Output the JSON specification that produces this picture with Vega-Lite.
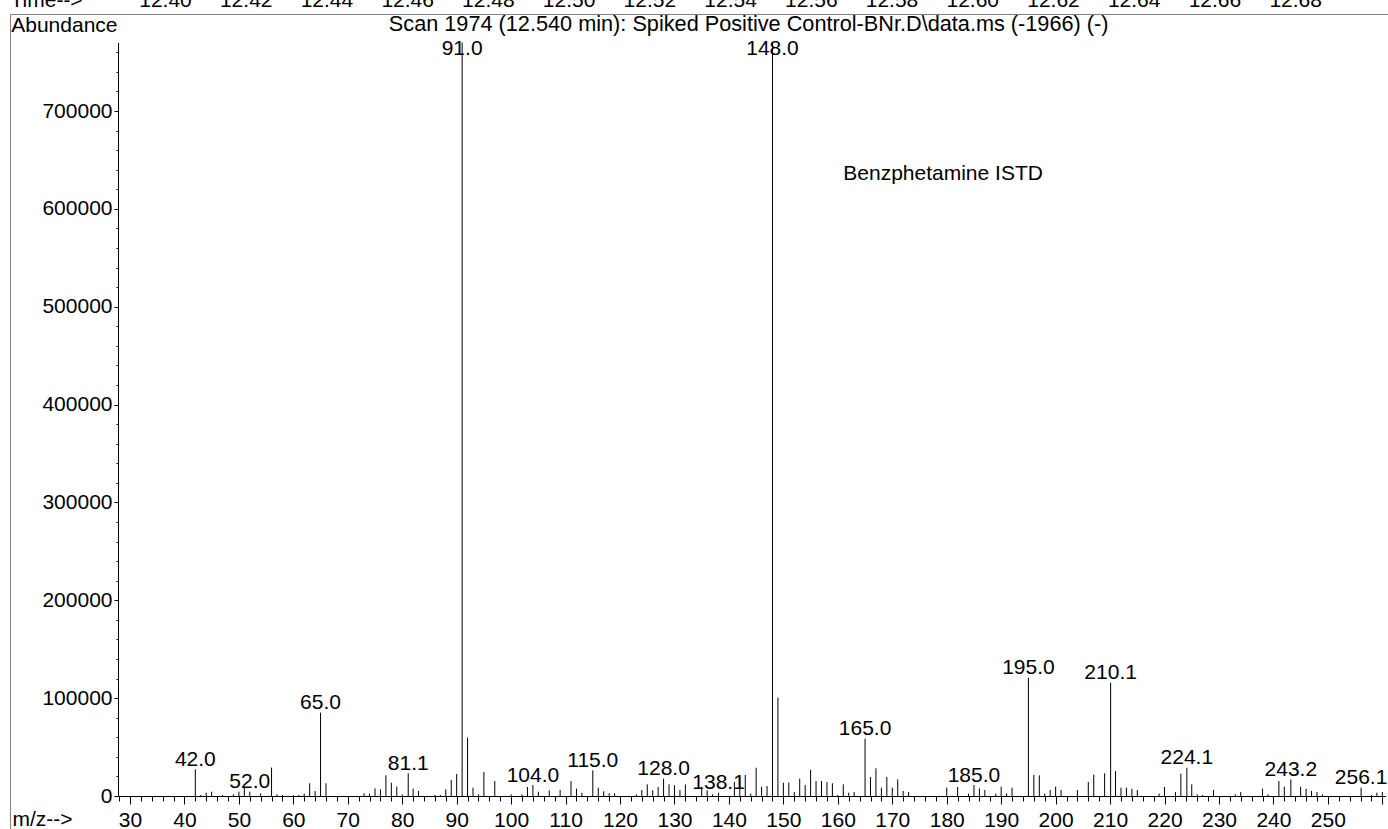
{
  "$schema": "https://vega.github.io/schema/vega-lite/v6.json",
  "width": 1378,
  "height": 815,
  "autosize": {"type": "none"},
  "padding": {"left": 10, "top": 14, "right": 0, "bottom": 0},
  "background": "white",
  "config": {
    "font": "Liberation Sans",
    "view": {"stroke": "#808080", "strokeWidth": 1},
    "axis": {"grid": false, "domainColor": "black", "tickColor": "black", "labelColor": "black", "titleColor": "black", "labelFontSize": 21, "titleFontSize": 21, "titleFontWeight": "normal"}
  },
  "datasets": {
    "spec": [
      {"mz": 42.0, "ab": 27250, "lab": true}, {"mz": 43, "ab": 1000}, {"mz": 44, "ab": 3400}, {"mz": 45, "ab": 4400}, {"mz": 47, "ab": 1000},
      {"mz": 49, "ab": 1700}, {"mz": 50, "ab": 4400}, {"mz": 51, "ab": 8500}, {"mz": 52.0, "ab": 4400, "lab": true}, {"mz": 54, "ab": 2700},
      {"mz": 56, "ab": 29000}, {"mz": 57, "ab": 1700}, {"mz": 58, "ab": 1000}, {"mz": 60, "ab": 1000}, {"mz": 61, "ab": 1000},
      {"mz": 62, "ab": 2400}, {"mz": 63, "ab": 13000}, {"mz": 64, "ab": 5100}, {"mz": 65.0, "ab": 85200, "lab": true}, {"mz": 66, "ab": 13000},
      {"mz": 73, "ab": 2700}, {"mz": 74, "ab": 2400}, {"mz": 75, "ab": 7800}, {"mz": 76, "ab": 6800}, {"mz": 77, "ab": 21100},
      {"mz": 78, "ab": 13600}, {"mz": 79, "ab": 9500}, {"mz": 80, "ab": 1700}, {"mz": 81.1, "ab": 23200, "lab": true}, {"mz": 82, "ab": 7500},
      {"mz": 83, "ab": 5100}, {"mz": 86, "ab": 1000}, {"mz": 87, "ab": 1000}, {"mz": 88, "ab": 6800}, {"mz": 89, "ab": 16300},
      {"mz": 90, "ab": 22500}, {"mz": 91.0, "ab": 770000, "lab": true}, {"mz": 92, "ab": 59600}, {"mz": 93, "ab": 8500}, {"mz": 94, "ab": 1700},
      {"mz": 95, "ab": 24500}, {"mz": 97, "ab": 15300}, {"mz": 100, "ab": 1700}, {"mz": 102, "ab": 1700}, {"mz": 103, "ab": 9200},
      {"mz": 104.0, "ab": 11200, "lab": true}, {"mz": 105, "ab": 4400}, {"mz": 107, "ab": 5800}, {"mz": 109, "ab": 6100}, {"mz": 111, "ab": 15300},
      {"mz": 112, "ab": 7500}, {"mz": 113, "ab": 3400}, {"mz": 115.0, "ab": 26200, "lab": true}, {"mz": 116, "ab": 8500}, {"mz": 117, "ab": 4800},
      {"mz": 118, "ab": 2700}, {"mz": 119, "ab": 2700}, {"mz": 123, "ab": 1700}, {"mz": 124, "ab": 6100}, {"mz": 125, "ab": 11900},
      {"mz": 126, "ab": 5800}, {"mz": 127, "ab": 9200}, {"mz": 128.0, "ab": 17700, "lab": true}, {"mz": 129, "ab": 11900}, {"mz": 130, "ab": 10900},
      {"mz": 131, "ab": 6100}, {"mz": 132, "ab": 11900}, {"mz": 135, "ab": 9500}, {"mz": 136, "ab": 5800}, {"mz": 137, "ab": 1700},
      {"mz": 138.1, "ab": 3400, "lab": true}, {"mz": 141, "ab": 14300}, {"mz": 142, "ab": 20400}, {"mz": 143, "ab": 21500}, {"mz": 144, "ab": 2400},
      {"mz": 145, "ab": 28900}, {"mz": 146, "ab": 9500}, {"mz": 147, "ab": 10200}, {"mz": 148.0, "ab": 770000, "lab": true}, {"mz": 149, "ab": 100500},
      {"mz": 150, "ab": 13600}, {"mz": 151, "ab": 13600}, {"mz": 152, "ab": 4100}, {"mz": 153, "ab": 17700}, {"mz": 154, "ab": 11200},
      {"mz": 155, "ab": 26600}, {"mz": 156, "ab": 15300}, {"mz": 157, "ab": 15300}, {"mz": 158, "ab": 14300}, {"mz": 159, "ab": 13000},
      {"mz": 160, "ab": 1000}, {"mz": 161, "ab": 11900}, {"mz": 162, "ab": 3400}, {"mz": 163, "ab": 4100}, {"mz": 165.0, "ab": 58600, "lab": true},
      {"mz": 166, "ab": 19400}, {"mz": 167, "ab": 28300}, {"mz": 168, "ab": 8500}, {"mz": 169, "ab": 19400}, {"mz": 170, "ab": 8500},
      {"mz": 171, "ab": 17000}, {"mz": 172, "ab": 5100}, {"mz": 173, "ab": 4100}, {"mz": 180, "ab": 8500}, {"mz": 182, "ab": 9200},
      {"mz": 184, "ab": 2400}, {"mz": 185.0, "ab": 11200, "lab": true}, {"mz": 186, "ab": 7800}, {"mz": 187, "ab": 6100}, {"mz": 189, "ab": 2400},
      {"mz": 190, "ab": 9500}, {"mz": 191, "ab": 2700}, {"mz": 192, "ab": 8500}, {"mz": 195.0, "ab": 120900, "lab": true}, {"mz": 196, "ab": 21500},
      {"mz": 197, "ab": 21100}, {"mz": 198, "ab": 2400}, {"mz": 199, "ab": 6100}, {"mz": 200, "ab": 9500}, {"mz": 201, "ab": 6100},
      {"mz": 204, "ab": 6100}, {"mz": 206, "ab": 14300}, {"mz": 207, "ab": 21800}, {"mz": 209, "ab": 23200}, {"mz": 210.1, "ab": 115800, "lab": true},
      {"mz": 211, "ab": 25500}, {"mz": 212, "ab": 8500}, {"mz": 213, "ab": 8500}, {"mz": 214, "ab": 7500}, {"mz": 215, "ab": 6100},
      {"mz": 219, "ab": 2400}, {"mz": 220, "ab": 9200}, {"mz": 222, "ab": 4100}, {"mz": 223, "ab": 22800}, {"mz": 224.1, "ab": 28900, "lab": true},
      {"mz": 225, "ab": 11900}, {"mz": 226, "ab": 1700}, {"mz": 227, "ab": 1000}, {"mz": 229, "ab": 6100}, {"mz": 233, "ab": 1700},
      {"mz": 234, "ab": 4100}, {"mz": 238, "ab": 7500}, {"mz": 239, "ab": 1700}, {"mz": 241, "ab": 15300}, {"mz": 242, "ab": 9500},
      {"mz": 243.2, "ab": 17000, "lab": true}, {"mz": 245, "ab": 9500}, {"mz": 246, "ab": 7500}, {"mz": 247, "ab": 5100}, {"mz": 248, "ab": 4100},
      {"mz": 249, "ab": 1700}, {"mz": 256.1, "ab": 8500, "lab": true}, {"mz": 258, "ab": 1000}, {"mz": 259, "ab": 3400}, {"mz": 260, "ab": 4100}
    ]
  },
  "resolve": {"scale": {"x": "independent", "y": "independent"}},
  "layer": [
    {
      "data": {"name": "spec"},
      "mark": {"type": "rule", "color": "black", "strokeWidth": 1},
      "encoding": {
        "x": {
          "field": "mz", "type": "quantitative",
          "scale": {"domain": [27.8, 260.6], "range": [108, 1375.6], "nice": false, "zero": false},
          "axis": {
            "orient": "bottom", "offset": -33,
            "values": [30, 40, 50, 60, 70, 80, 90, 100, 110, 120, 130, 140, 150, 160, 170, 180, 190, 200, 210, 220, 230, 240, 250, 260],
            "labelExpr": "datum.value == 260 ? '' : datum.label",
            "tickSize": 8, "labelPadding": 5, "labelFlush": false, "labelOverlap": false,
            "title": "m/z-->", "titleX": 2, "titleY": 29, "titleAlign": "left", "titleBaseline": "alphabetic", "titleAngle": 0
          }
        },
        "y": {
          "field": "ab", "type": "quantitative",
          "scale": {"domain": [0, 770000], "range": [782, 28.5], "nice": false, "zero": false},
          "axis": {
            "orient": "left", "offset": -108,
            "values": [0, 100000, 200000, 300000, 400000, 500000, 600000, 700000],
            "format": "d", "tickSize": 4, "labelPadding": 2, "labelBaseline": "middle", "labelFlush": false, "labelOverlap": false,
            "title": "Abundance", "titleAngle": 0, "titleX": -1, "titleY": 17, "titleAlign": "right", "titleBaseline": "alphabetic"
          }
        },
        "y2": {"datum": 0}
      }
    },
    {
      "data": {"name": "spec"},
      "transform": [
        {"filter": "datum.lab === true"},
        {"calculate": "min(datum.ab, 754000)", "as": "ly"}
      ],
      "mark": {"type": "text", "fontSize": 21, "align": "center", "baseline": "alphabetic", "dy": -3.5, "color": "black"},
      "encoding": {
        "x": {
          "field": "mz", "type": "quantitative",
          "scale": {"domain": [27.8, 260.6], "range": [108, 1375.6], "nice": false, "zero": false},
          "axis": {
            "orient": "bottom", "offset": -33,
            "values": [28, 32, 34, 36, 38, 42, 44, 46, 48, 52, 54, 56, 58, 62, 64, 66, 68, 72, 74, 76, 78, 82, 84, 86, 88, 92, 94, 96, 98, 102, 104, 106, 108, 112, 114, 116, 118, 122, 124, 126, 128, 132, 134, 136, 138, 142, 144, 146, 148, 152, 154, 156, 158, 162, 164, 166, 168, 172, 174, 176, 178, 182, 184, 186, 188, 192, 194, 196, 198, 202, 204, 206, 208, 212, 214, 216, 218, 222, 224, 226, 228, 232, 234, 236, 238, 242, 244, 246, 248, 252, 254, 256, 258],
            "tickSize": 5, "labels": false, "domain": false, "title": null
          }
        },
        "y": {
          "field": "ly", "type": "quantitative",
          "scale": {"domain": [0, 770000], "range": [782, 28.5], "nice": false, "zero": false},
          "axis": {
            "orient": "left", "offset": -108,
            "values": [20000, 40000, 60000, 80000, 120000, 140000, 160000, 180000, 220000, 240000, 260000, 280000, 320000, 340000, 360000, 380000, 420000, 440000, 460000, 480000, 520000, 540000, 560000, 580000, 620000, 640000, 660000, 680000, 720000, 740000, 760000],
            "tickSize": 2, "labels": false, "domain": false, "title": null
          }
        },
        "text": {"field": "mz", "type": "quantitative", "format": ".1f"}
      }
    },
    {
      "data": {"values": [{}]},
      "mark": {"type": "text", "text": "Benzphetamine ISTD", "fontSize": 21, "align": "left", "baseline": "alphabetic", "color": "black"},
      "encoding": {
        "x": {"datum": 161.0, "type": "quantitative", "scale": {"domain": [27.8, 260.6], "range": [108, 1375.6], "nice": false, "zero": false}, "axis": null},
        "y": {"datum": 629500, "type": "quantitative", "scale": {"domain": [0, 770000], "range": [782, 28.5], "nice": false, "zero": false}, "axis": null}
      }
    },
    {
      "data": {"values": [{}]},
      "mark": {"type": "text", "text": "Scan 1974 (12.540 min): Spiked Positive Control-BNr.D\\data.ms (-1966) (-)", "fontSize": 21.7, "align": "center", "baseline": "alphabetic", "color": "black"},
      "encoding": {
        "x": {
          "datum": 12.5446, "type": "quantitative",
          "scale": {"domain": [12.3616, 12.703], "range": [0, 1378], "nice": false, "zero": false},
          "axis": {
            "orient": "top", "offset": 0,
            "values": [12.40, 12.42, 12.44, 12.46, 12.48, 12.50, 12.52, 12.54, 12.56, 12.58, 12.60, 12.62, 12.64, 12.66, 12.68],
            "format": ".2f", "ticks": false, "tickSize": 0, "domain": false, "labelPadding": 8, "labelBaseline": "alphabetic", "labelFlush": false, "labelOverlap": false,
            "title": "Time-->", "titleX": 0, "titleY": -8, "titleAlign": "left", "titleBaseline": "alphabetic", "titleAngle": 0
          }
        },
        "y": {"datum": 781750, "type": "quantitative", "scale": {"domain": [0, 770000], "range": [782, 28.5], "nice": false, "zero": false}, "axis": null}
      }
    }
  ]
}
